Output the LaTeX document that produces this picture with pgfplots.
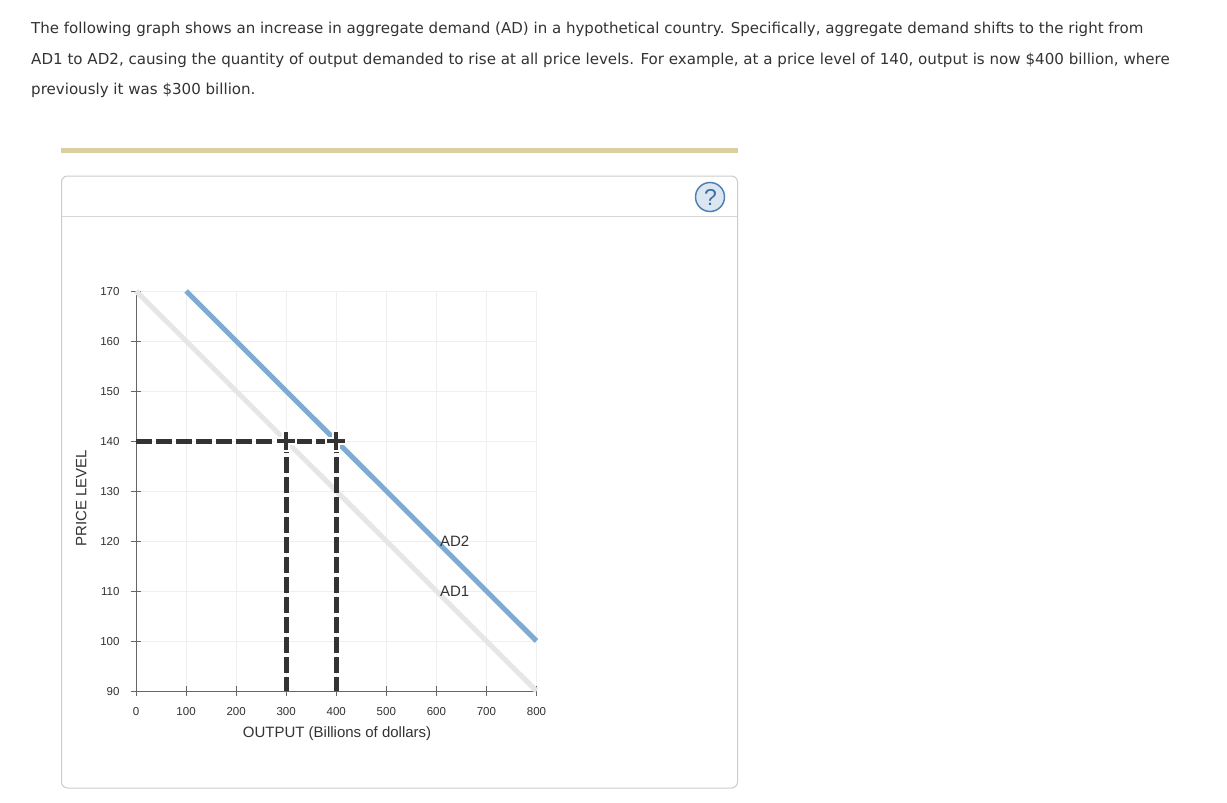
\documentclass[border=0pt]{standalone}
\usepackage{pgfplots}
\pgfplotsset{compat=1.18}
\usepackage{fontspec}
\setmainfont{Liberation Sans}
\newfontfamily\verd{DejaVu Sans}
\definecolor{gridc}{HTML}{EFEFEF}
\definecolor{axc}{HTML}{666666}
\definecolor{adone}{HTML}{E6E6E6}
\definecolor{adtwo}{HTML}{7FABD3}
\definecolor{dashc}{HTML}{333333}
\definecolor{txt}{HTML}{333333}
\definecolor{rulec}{HTML}{DCCF9F}
\definecolor{cardc}{HTML}{CCCCCC}
\definecolor{helpf}{HTML}{DCE6F0}
\definecolor{helpd}{HTML}{4F81B5}
\definecolor{helpt}{HTML}{3B6EA5}
\begin{document}
\begin{tikzpicture}[x=1pt,y=-1pt]
\path[use as bounding box,fill=white] (0,0) rectangle (1227,803);
\fill[rulec] (61,148) rectangle (738,152.5);
\draw[cardc,line width=1pt,rounded corners=6pt] (61.5,176) rectangle (737.5,788);
\draw[gridc!90!black,line width=0.8pt] (62,216.5) -- (737,216.5);
\node[anchor=base west,inner sep=0,text=txt] at (31,34) {\verd\fontsize{15.03}{18}\selectfont The following graph shows an increase in aggregate demand (AD) in a hypothetical country. Specifically, aggregate demand shifts to the right from};
\node[anchor=base west,inner sep=0,text=txt] at (31,64) {\verd\fontsize{15.09}{18}\selectfont AD1 to AD2, causing the quantity of output demanded to rise at all price levels. For example, at a price level of 140, output is now \$400 billion, where};
\node[anchor=base west,inner sep=0,text=txt] at (31,94) {\verd\fontsize{15.06}{18}\selectfont previously it was \$300 billion.};
\draw[fill=helpf,draw=helpd,line width=1.5pt] (710,197) circle (14.5);
\node[text=helpt] at (710.5,197.5) {\fontsize{23}{25}\selectfont ?};
\begin{axis}[
  at={(136pt,-691pt)},anchor=south west,
  scale only axis,width=400.5pt,height=400pt,
  xmin=0,xmax=800,ymin=90,ymax=170,
  xtick={0,100,...,800},ytick={90,100,...,170},
  axis lines=left,axis line style={axc,line width=0.9pt,-},
  grid=major,grid style={gridc,line width=0.8pt},
  tick style={axc,line width=0.9pt},tick align=center,
  major tick length=10pt,
  clip=false,
  /pgf/number format/assume math mode=true,
  tick label style={font=\fontsize{11.5}{14}\selectfont,text=txt},
  xticklabel style={yshift=-8pt},
  yticklabel style={xshift=-8pt,yshift=-0.8pt},
  xlabel={OUTPUT (Billions of dollars)},
  ylabel={PRICE LEVEL},
  label style={font=\fontsize{15}{17}\selectfont,text=txt},
  xlabel style={at={(axis description cs:0.502,-0.1055)},anchor=center},
  ylabel style={at={(axis description cs:-0.137,0.4825)},anchor=center},
]
\addplot[adone,line width=5pt,forget plot] coordinates {(0,170) (800,90)};
\addplot[adtwo,line width=5pt,forget plot] coordinates {(100,170) (800,100)};
\addplot[dashc,line width=5pt,dash pattern=on 16pt off 4pt,forget plot] coordinates {(0,140) (400,140)};
\addplot[dashc,line width=5pt,dash pattern=on 16pt off 4pt,dash phase=2pt,forget plot] coordinates {(300,90) (300,140)};
\addplot[dashc,line width=5pt,dash pattern=on 16pt off 4pt,dash phase=2pt,forget plot] coordinates {(400,90) (400,140)};
\addplot[only marks,mark=+,mark size=11pt,mark options={white,line width=8pt},forget plot] coordinates {(300,140) (400,140)};
\addplot[only marks,mark=+,mark size=9pt,mark options={dashc,line width=4pt},forget plot] coordinates {(300,140) (400,140)};
\node[anchor=west,inner sep=0,text=txt,font=\fontsize{15}{17}\selectfont] at (axis cs:607,120) {AD2};
\node[anchor=west,inner sep=0,text=txt,font=\fontsize{15}{17}\selectfont] at (axis cs:607,110) {AD1};
\end{axis}
\end{tikzpicture}
\end{document}
